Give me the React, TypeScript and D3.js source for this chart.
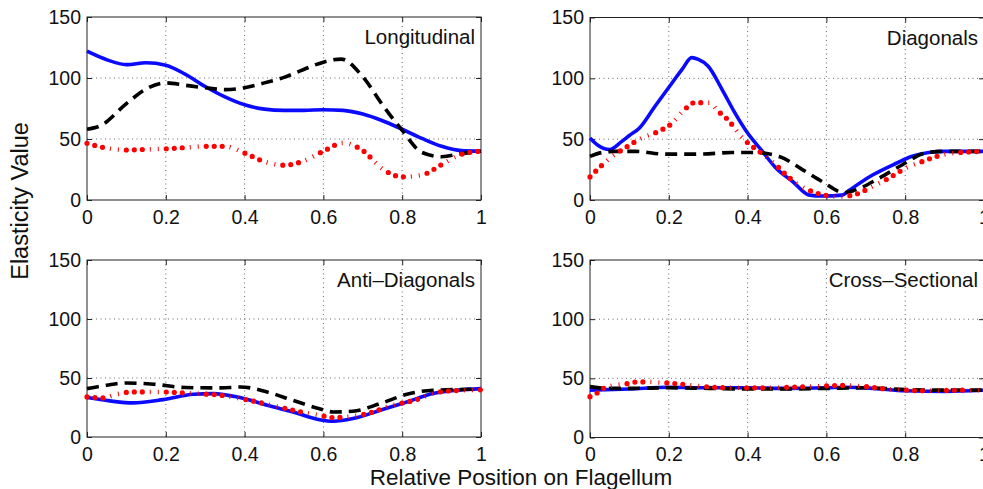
import React, { useEffect, useRef } from 'react';
import * as d3 from 'd3';

type Pt = [number, number];

const xTicks = [0, 0.2, 0.4, 0.6, 0.8, 1];
const yTicks = [0, 50, 100, 150];
const panelTitles = ['Longitudinal', 'Diagonals', 'Anti\u2013Diagonals', 'Cross\u2013Sectional'];
const yLabel = 'Elasticity Value';
const xLabel = 'Relative Position on Flagellum';

// Longitudinal
const longSolid: Pt[] = [[0, 122], [0.05, 115], [0.1, 111], [0.15, 112.5], [0.2, 110.5], [0.25, 103], [0.3, 93], [0.35, 84.5], [0.4, 78], [0.45, 74.5], [0.5, 73.5], [0.55, 73.5], [0.6, 74], [0.65, 73.5], [0.7, 70.5], [0.75, 65], [0.8, 58], [0.85, 50.5], [0.9, 44], [0.95, 40.5], [1, 40]];
const longDashed: Pt[] = [[0, 58], [0.035, 61], [0.1, 79], [0.15, 91], [0.2, 96], [0.25, 94], [0.3, 92], [0.35, 90.5], [0.4, 92], [0.45, 96], [0.5, 100.5], [0.55, 107], [0.6, 113], [0.645, 115.5], [0.7, 101], [0.75, 78], [0.8, 57], [0.85, 39], [0.9, 35.5], [0.95, 38], [1, 40]];
const longDotted: Pt[] = [[0, 46.5], [0.05, 42.5], [0.1, 41], [0.15, 41.5], [0.2, 42], [0.25, 43], [0.3, 44], [0.35, 44], [0.4, 38.5], [0.45, 31.5], [0.5, 28.5], [0.55, 32], [0.6, 40], [0.65, 46.8], [0.7, 40.5], [0.75, 25.5], [0.8, 19], [0.85, 20.5], [0.9, 29], [0.95, 37.5], [1, 40]];

// Diagonals
const diagSolid: Pt[] = [[0, 51], [0.02, 45], [0.05, 41.5], [0.08, 48], [0.1, 53], [0.125, 59], [0.165, 77], [0.21, 97], [0.235, 108], [0.258, 117], [0.275, 115.5], [0.3, 110], [0.335, 91], [0.367, 72], [0.4, 55], [0.435, 41], [0.47, 27], [0.515, 15], [0.557, 4], [0.59, 3.3], [0.64, 4], [0.658, 8], [0.717, 20.5], [0.776, 30], [0.818, 36], [0.86, 39], [0.9, 40], [1, 40]];
const diagDashed: Pt[] = [[0, 35.8], [0.03, 39], [0.064, 40], [0.115, 40], [0.19, 37.7], [0.275, 37.7], [0.36, 39], [0.417, 39], [0.48, 35.8], [0.54, 24.8], [0.59, 15], [0.645, 6], [0.674, 8.3], [0.734, 18], [0.793, 29], [0.85, 38.5], [0.9, 40], [1, 40]];
const diagDotted: Pt[] = [[0, 19], [0.022, 26], [0.056, 35.8], [0.082, 41.3], [0.132, 51], [0.174, 56.4], [0.208, 63], [0.233, 72], [0.266, 80], [0.303, 80], [0.325, 73], [0.35, 66], [0.384, 52], [0.435, 38.5], [0.468, 30], [0.5, 20], [0.532, 12], [0.583, 5], [0.633, 2.8], [0.667, 4], [0.717, 11], [0.759, 18], [0.8, 26], [0.843, 31.6], [0.885, 36.3], [0.923, 38.5], [1, 40]];

// Anti-Diagonals
const antiSolid: Pt[] = [[0, 33.4], [0.058, 30.6], [0.117, 28.9], [0.193, 31.7], [0.27, 36.2], [0.32, 36.8], [0.388, 33.4], [0.457, 27], [0.523, 21.2], [0.59, 14.7], [0.625, 13.3], [0.675, 15.6], [0.744, 22.6], [0.812, 29.7], [0.878, 36.8], [0.938, 39.6], [1, 41]];
const antiDashed: Pt[] = [[0, 41], [0.05, 43.9], [0.1, 45.8], [0.17, 44.7], [0.25, 41.9], [0.34, 41.6], [0.39, 42.4], [0.457, 38.2], [0.523, 31], [0.59, 24], [0.625, 21.2], [0.675, 21.8], [0.744, 28.3], [0.812, 36.2], [0.878, 39.6], [1, 40.5]];
const antiDotted: Pt[] = [[0, 34], [0.04, 33.1], [0.075, 36.2], [0.117, 38.2], [0.193, 38.2], [0.227, 37.7], [0.27, 36.8], [0.34, 35.4], [0.39, 32.6], [0.457, 27.8], [0.523, 22.7], [0.59, 18.4], [0.625, 16.5], [0.675, 17.6], [0.717, 20.4], [0.776, 27], [0.83, 31], [0.895, 38.2], [0.955, 39.6], [1, 40]];

// Cross-Sectional
const crossSolid: Pt[] = [[0, 40], [0.1, 41], [0.2, 42.5], [0.3, 42], [0.4, 42], [0.5, 41.5], [0.6, 42], [0.65, 42.5], [0.72, 41.5], [0.8, 39.5], [0.9, 39], [1, 40]];
const crossDashed: Pt[] = [[0, 43], [0.05, 41.5], [0.1, 41.5], [0.2, 42], [0.3, 41.5], [0.4, 41], [0.5, 41], [0.6, 41.5], [0.7, 42], [0.8, 40.5], [0.9, 40], [1, 40]];
const crossDotted: Pt[] = [[0, 34.5], [0.02, 38], [0.04, 42.5], [0.1, 45.8], [0.12, 47], [0.22, 45.5], [0.26, 44], [0.35, 42], [0.45, 42], [0.55, 43], [0.65, 44], [0.7, 43], [0.75, 41], [0.8, 40], [0.85, 39.5], [0.95, 40], [1, 40]];

const panels = [
  { title: panelTitles[0], solid: longSolid, dashed: longDashed, dotted: longDotted, left: 87, top: 17, bottom: 200 },
  { title: panelTitles[1], solid: diagSolid, dashed: diagDashed, dotted: diagDotted, left: 590, top: 17.5, bottom: 200 },
  { title: panelTitles[2], solid: antiSolid, dashed: antiDashed, dotted: antiDotted, left: 87, top: 260, bottom: 437 },
  { title: panelTitles[3], solid: crossSolid, dashed: crossDashed, dotted: crossDotted, left: 590, top: 260, bottom: 437.5 },
];

const W = 983, H = 489, PW = 394;
const FONT = '"Liberation Sans", Arial, Helvetica, sans-serif';

export default function App() {
  const ref = useRef<SVGSVGElement>(null);

  useEffect(() => {
    const svg = d3.select(ref.current);
    svg.selectAll('*').remove();

    panels.forEach(p => {
      const x = d3.scaleLinear().domain([0, 1]).range([p.left, p.left + PW]);
      const y = d3.scaleLinear().domain([0, 150]).range([p.bottom, p.top]);
      const g = svg.append('g');

      g.append('rect')
        .attr('x', x(0)).attr('y', y(150))
        .attr('width', x(1) - x(0)).attr('height', y(0) - y(150))
        .attr('fill', '#fff');

      // dotted grid
      g.selectAll('.gx').data(xTicks.slice(1, -1)).enter().append('line')
        .attr('x1', d => x(d)).attr('x2', d => x(d))
        .attr('y1', y(150)).attr('y2', y(0))
        .attr('stroke', '#666').attr('stroke-width', 1).attr('stroke-dasharray', '1 3.5');
      g.selectAll('.gy').data(yTicks.slice(1, -1)).enter().append('line')
        .attr('x1', x(0)).attr('x2', x(1))
        .attr('y1', d => y(d)).attr('y2', d => y(d))
        .attr('stroke', '#666').attr('stroke-width', 1).attr('stroke-dasharray', '1 3.5');

      const styleAxis = (a: any) => {
        a.select('.domain').remove();
        a.attr('font-family', FONT).attr('font-size', 19.5);
        a.selectAll('line').attr('stroke', '#222');
        a.selectAll('text').attr('fill', '#111');
      };

      g.append('g').attr('transform', `translate(0,${y(0)})`)
        .call(d3.axisBottom(x).tickValues(xTicks).tickSizeInner(-5).tickSizeOuter(0).tickPadding(10)
          .tickFormat(d => d3.format('~g')(d as number)))
        .call(styleAxis);
      g.append('g').attr('transform', `translate(0,${y(150)})`)
        .call(d3.axisTop(x).tickValues(xTicks).tickSizeInner(-5).tickSizeOuter(0).tickFormat(() => ''))
        .call(styleAxis);
      g.append('g').attr('transform', `translate(${x(0)},0)`)
        .call(d3.axisLeft(y).tickValues(yTicks).tickSizeInner(-5).tickSizeOuter(0).tickPadding(6))
        .call(styleAxis);
      g.append('g').attr('transform', `translate(${x(1)},0)`)
        .call(d3.axisRight(y).tickValues(yTicks).tickSizeInner(-5).tickSizeOuter(0).tickFormat(() => ''))
        .call(styleAxis);

      g.append('rect')
        .attr('x', x(0)).attr('y', y(150))
        .attr('width', x(1) - x(0)).attr('height', y(0) - y(150))
        .attr('fill', 'none').attr('stroke', '#222').attr('stroke-width', 1);

      const line = d3.line<Pt>().x(d => x(d[0])).y(d => y(d[1])).curve(d3.curveMonotoneX);

      g.append('path').attr('d', line(p.solid))
        .attr('fill', 'none').attr('stroke', '#0a0aff').attr('stroke-width', 3.6);
      g.append('path').attr('d', line(p.dashed))
        .attr('fill', 'none').attr('stroke', '#000').attr('stroke-width', 3.6)
        .attr('stroke-dasharray', '12 7');
      // red dash-dot: round dots plus thin ticks between them
      g.append('path').attr('d', line(p.dotted))
        .attr('fill', 'none').attr('stroke', '#f00').attr('stroke-width', 5.2)
        .attr('stroke-linecap', 'round').attr('stroke-dasharray', '0 8 0 8 0 24');
      g.append('path').attr('d', line(p.dotted))
        .attr('fill', 'none').attr('stroke', '#f00').attr('stroke-width', 4.5)
        .attr('stroke-dasharray', '1 7 1 31').attr('stroke-dashoffset', -23.5);

      g.append('text')
        .attr('x', x(1) - 6).attr('y', y(150) + 27)
        .attr('text-anchor', 'end')
        .attr('font-family', FONT).attr('font-size', 20.5).attr('fill', '#111')
        .text(p.title);
    });

    svg.append('text')
      .attr('transform', `translate(28,201) rotate(-90)`)
      .attr('text-anchor', 'middle')
      .attr('font-family', FONT).attr('font-size', 23.5).attr('fill', '#111')
      .text(yLabel);

    svg.append('text')
      .attr('x', 521).attr('y', 484.5)
      .attr('text-anchor', 'middle')
      .attr('font-family', FONT).attr('font-size', 22.5).attr('fill', '#111')
      .text(xLabel);
  }, []);

  return (
    <svg ref={ref} width={W} height={H}
      style={{ position: 'absolute', left: 0, top: 0, background: '#fff', display: 'block' }} />
  );
}
